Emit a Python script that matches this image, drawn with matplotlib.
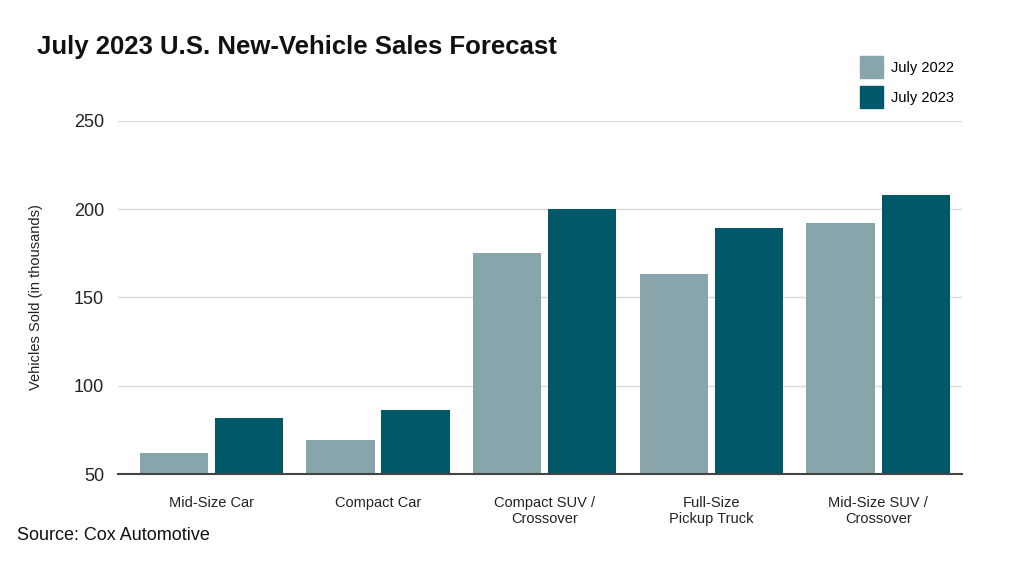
import matplotlib.pyplot as plt
import numpy as np
from matplotlib.patches import Patch

categories = ['Mid-Size Car', 'Compact Car', 'Compact SUV /\nCrossover',
              'Full-Size\nPickup Truck', 'Mid-Size SUV /\nCrossover']
sales_2022 = [62, 69.5, 175, 163.5, 192]
sales_2023 = [81.6, 86.4, 200, 189.3, 208]
series_labels = ['July 2022', 'July 2023']
yticks = [50, 100, 150, 200, 250]

c22 = '#87a5ab'
c23 = '#005868'

plt.rcParams['font.family'] = ['Liberation Sans', 'DejaVu Sans']

fig = plt.figure(figsize=(10.24, 5.65), dpi=100)
ax = fig.add_axes([0.1152, 0.161, 0.8238, 0.625])

x = np.arange(len(categories))
w = 0.41
ax.bar(x - 0.225, sales_2022, w, color=c22, zorder=3)
ax.bar(x + 0.225, sales_2023, w, color=c23, zorder=3)

ax.set_xlim(-0.56, 4.5)
ax.set_ylim(50, 250)
ax.set_yticks(yticks)
ax.set_xticks(x)
ax.set_xticklabels(categories, fontsize=10.5, color='#222222', linespacing=1.2)
ax.tick_params(axis='x', length=0, pad=16)
ax.tick_params(axis='y', length=0, pad=10, labelsize=13, labelcolor='#222222')
ax.grid(axis='y', color='#dadada', linewidth=1, zorder=0)
for s in ['top', 'right', 'left']:
    ax.spines[s].set_visible(False)
ax.spines['bottom'].set_color('#444444')
ax.spines['bottom'].set_linewidth(1.5)
ax.spines['bottom'].set_zorder(4)
ax.set_ylabel('Vehicles Sold (in thousands)', fontsize=10.5, color='#222222', labelpad=22)

fig.text(37 / 1024, 1 - 47 / 565, 'July 2023 U.S. New-Vehicle Sales Forecast',
         fontsize=18.5, fontweight='bold', color='#111111', va='center')
fig.text(17 / 1024, 1 - 536 / 565, 'Source: Cox Automotive',
         fontsize=13, color='#111111', va='center')

handles = [Patch(color=c22), Patch(color=c23)]
fig.legend(handles, series_labels, loc='upper left',
           bbox_to_anchor=(847 / 1024, 1 - 43 / 565), frameon=False,
           handlelength=1.55, handleheight=1.9, labelspacing=0.6,
           handletextpad=0.6, fontsize=10.5)

fig.savefig('out.png', dpi=100)
